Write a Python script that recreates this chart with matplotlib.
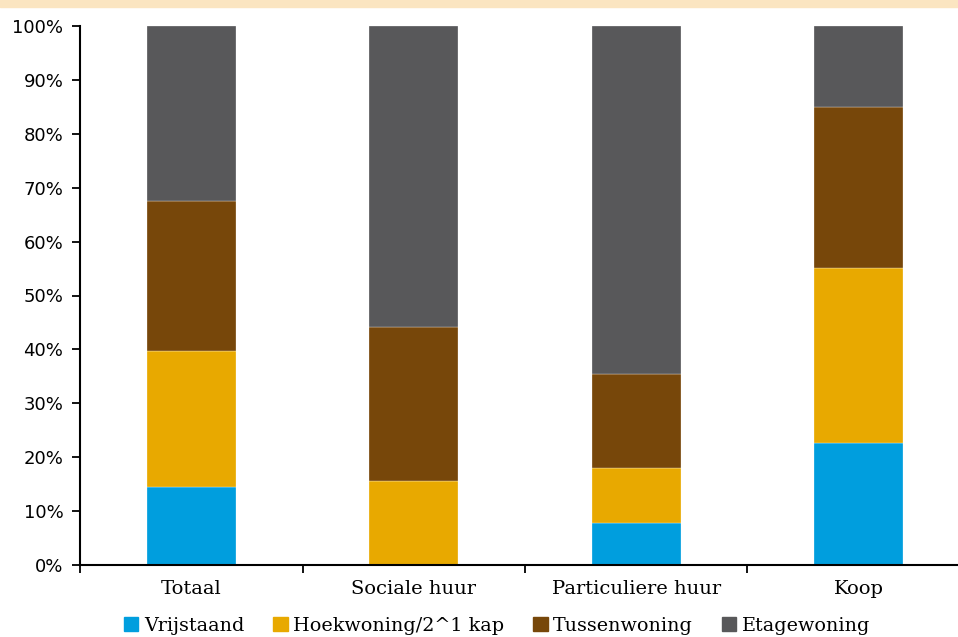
import matplotlib.pyplot as plt
import matplotlib.patches as mpatches
import numpy as np

categories = ['Totaal', 'Sociale huur', 'Particuliere huur', 'Koop']
series_names = ['Vrijstaand', 'Hoekwoning/2^1 kap', 'Tussenwoning', 'Etagewoning']
vrijstaand = [14.5, 0.0, 7.8, 22.6]
hoekwoning = [25.2, 15.6, 10.2, 32.5]
tussenwoning = [27.8, 28.6, 17.4, 29.9]
etagewoning = [32.5, 55.8, 64.6, 15.0]
colors = ['#009EDE', '#E8A900', '#77470A', '#58585A']

serif = ['DejaVu Serif']
sans = ['DejaVu Sans']

fig = plt.figure(figsize=(9.58, 6.37), dpi=100)
# peach strip along the top edge
fig.patches.append(mpatches.Rectangle((0, 1 - 7 / 637), 1, 7 / 637, transform=fig.transFigure,
                                      color='#FBE5C1', zorder=0))

ax = fig.add_axes([80 / 958, 1 - 565 / 637, 890 / 958, 539 / 637])
x = np.arange(len(categories))
bottom = np.zeros(len(categories))
for name, vals, c in zip(series_names, [vrijstaand, hoekwoning, tussenwoning, etagewoning], colors):
    vals = np.array(vals)
    ax.bar(x, vals, 0.40, bottom=bottom, color=c, edgecolor='#FFFFFF', linewidth=0.2, label=name)
    bottom += vals

ax.set_xlim(-0.5, 3.5)
ax.set_ylim(0, 100)
ax.set_yticks(np.arange(0, 101, 10))
ax.set_yticklabels([f'{v}%' for v in range(0, 101, 10)], family=sans, fontsize=13)
ax.set_xticks(x)
ax.set_xticklabels(categories, family=serif, fontsize=14)
ax.set_xticks(np.arange(-0.5, 4.0, 1.0), minor=True)
ax.tick_params(axis='x', which='major', length=0, pad=11)
ax.tick_params(axis='x', which='minor', length=6, width=1.3, direction='out')
ax.tick_params(axis='y', length=6, width=1.3, direction='out', pad=6)

for s in ['top', 'right']:
    ax.spines[s].set_visible(False)
for s in ['left', 'bottom']:
    ax.spines[s].set_linewidth(1.5)

handles = [mpatches.Patch(color=c) for c in colors]
fig.legend(handles, series_names, loc='center', bbox_to_anchor=(0.519, 1 - 626 / 637), ncol=4,
           frameon=False, prop={'family': serif, 'size': 13.8}, handlelength=0.75, handleheight=0.75,
           handletextpad=0.3, columnspacing=1.5)

fig.savefig('out.png', dpi=100)
